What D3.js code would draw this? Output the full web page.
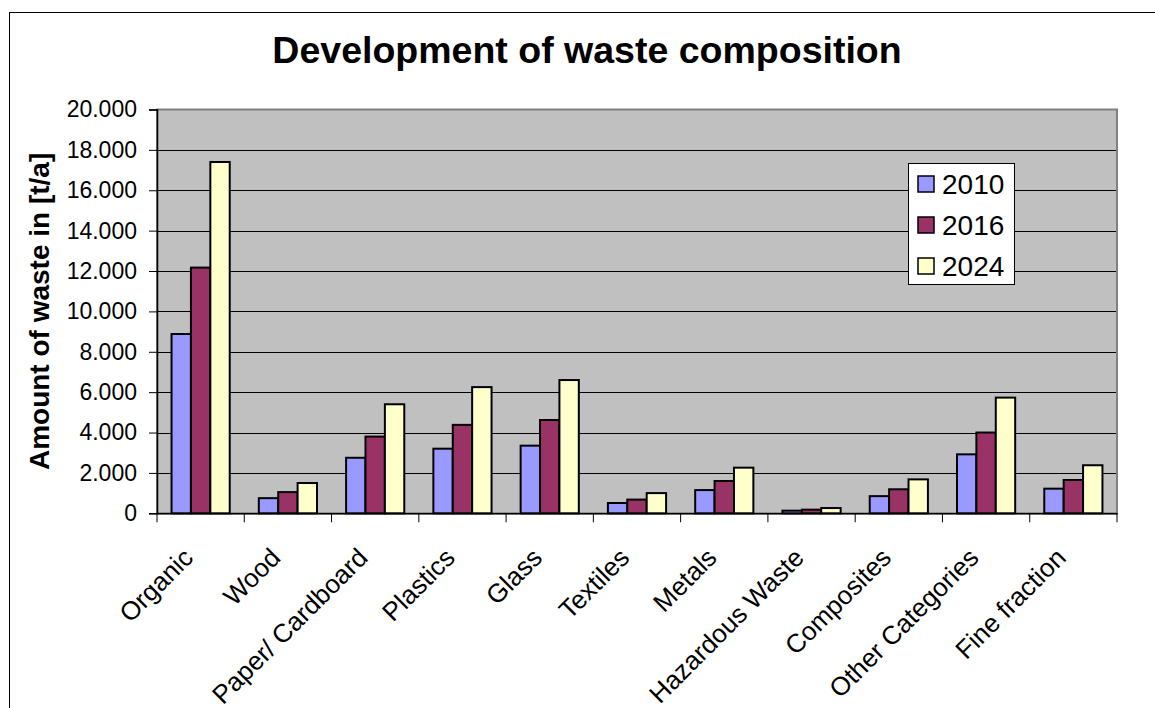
<!DOCTYPE html>
<html><head><meta charset="utf-8">
<script src="https://cdn.jsdelivr.net/npm/d3@7"></script>
<style>
html,body{margin:0;padding:0;background:#fff;}
svg{display:block;font-family:Arial,"Liberation Sans",sans-serif;}
</style></head>
<body>
<svg id="chart" width="1155" height="708"></svg>
<script>
const categories = ["Organic","Wood","Paper/ Cardboard","Plastics","Glass","Textiles","Metals","Hazardous Waste","Composites","Other Categories","Fine fraction"];
const seriesNames = ["2010","2016","2024"];
const values2010 = [8880, 750, 2750, 3200, 3350, 510, 1150, 130, 850, 2920, 1220];
const values2016 = [12170, 1050, 3800, 4380, 4620, 680, 1600, 180, 1190, 4000, 1650];
const values2024 = [17400, 1500, 5400, 6250, 6600, 1000, 2260, 260, 1680, 5730, 2380];
const yTicks = [0,2000,4000,6000,8000,10000,12000,14000,16000,18000,20000];
const colors = ["#9999FF","#993366","#FFFFCC"];
const title = "Development of waste composition";
const yLabel = "Amount of waste in [t/a]";

const series = [values2010, values2016, values2024];
const svg = d3.select("#chart");
const L = 157, R = 1117, T = 109.5, B = 513.3;

// outer chart border
svg.append("rect").attr("x",9.5).attr("y",12.5).attr("width",1160).attr("height",720)
  .attr("fill","#fff").attr("stroke","#000").attr("stroke-width",1);

const x0 = d3.scaleBand().domain(categories).range([L,R]).padding(0);
const bw = x0.bandwidth();
const gap = bw*1.5/4.5;
const x1 = d3.scaleBand().domain(seriesNames).range([gap/2, bw-gap/2]).padding(0);
const y = d3.scaleLinear().domain([0,20000]).range([B,T]);

// plot area
svg.append("rect").attr("x",L).attr("y",T).attr("width",R-L).attr("height",B-T)
  .attr("fill","#C0C0C0");
// gridlines
svg.append("g").selectAll("line").data(yTicks.filter(d=>d>0 && d<20000)).join("line")
  .attr("x1",L).attr("x2",R).attr("y1",d=>Math.round(y(d))+0.5).attr("y2",d=>Math.round(y(d))+0.5)
  .attr("stroke","#000").attr("stroke-width",1);
// plot border
svg.append("rect").attr("x",L).attr("y",T).attr("width",R-L).attr("height",B-T)
  .attr("fill","none").attr("stroke","#808080").attr("stroke-width",2);

// bars
const g = svg.append("g");
categories.forEach((c,i)=>{
  seriesNames.forEach((s,j)=>{
    const v = series[j][i];
    g.append("rect")
      .attr("x", x0(c)+x1(s))
      .attr("y", y(v))
      .attr("width", x1.bandwidth())
      .attr("height", B - y(v))
      .attr("fill", colors[j]).attr("stroke","#000").attr("stroke-width",2);
  });
});

// y axis
const loc = d3.formatLocale({decimal:",", thousands:".", grouping:[3], currency:["",""]});
const fmt = loc.format(",.0f");
const yAxis = d3.axisLeft(y).tickValues(yTicks).tickFormat(fmt).tickSize(8).tickPadding(12);
const ya = svg.append("g").attr("transform",`translate(${L},0)`).call(yAxis);
ya.attr("font-size",null).attr("font-family",null);
ya.select(".domain").attr("stroke","#000").attr("stroke-width",1.5);
ya.selectAll(".tick line").attr("stroke","#000");
ya.selectAll("text").attr("font-size","23px").attr("fill","#000");

// x axis
const xAxis = d3.axisBottom(x0).tickSize(0).tickFormat("");
const xa = svg.append("g").attr("transform",`translate(0,${B})`).call(xAxis);
xa.select(".domain").attr("stroke","#000").attr("stroke-width",1.5);
// ticks between categories
const bounds = categories.map(c=>x0(c)).concat([R]);
svg.append("g").selectAll("line").data(bounds).join("line")
  .attr("x1",d=>d).attr("x2",d=>d).attr("y1",B).attr("y2",B+9)
  .attr("stroke","#000").attr("stroke-width",1);
// category labels
svg.append("g").selectAll("text").data(categories).join("text")
  .attr("transform", d=>`translate(${x0(d)+bw/2-6},${B+46}) rotate(-45)`)
  .attr("text-anchor","end")
  .attr("font-size","26px").attr("fill","#000")
  .text(d=>d);

// title
svg.append("text").attr("x",587).attr("y",63).attr("text-anchor","middle")
  .attr("font-size","37.5px").attr("font-weight","bold").text(title);

// y label
svg.append("text").attr("transform",`translate(49,${(T+B)/2}) rotate(-90)`)
  .attr("text-anchor","middle").attr("font-size","28px").attr("font-weight","bold").text(yLabel);

// legend
const lg = svg.append("g");
lg.append("rect").attr("x",908.5).attr("y",163.5).attr("width",106).attr("height",121)
  .attr("fill","#fff").attr("stroke","#000").attr("stroke-width",1);
seriesNames.forEach((s,j)=>{
  const cy = 184 + j*41;
  lg.append("rect").attr("x",918).attr("y",cy-8).attr("width",16).attr("height",16)
    .attr("fill",colors[j]).attr("stroke","#000").attr("stroke-width",1.5);
  lg.append("text").attr("x",942).attr("y",cy).attr("dy","0.36em")
    .attr("font-size","28px").attr("fill","#000").text(s);
});
</script>
</body></html>
